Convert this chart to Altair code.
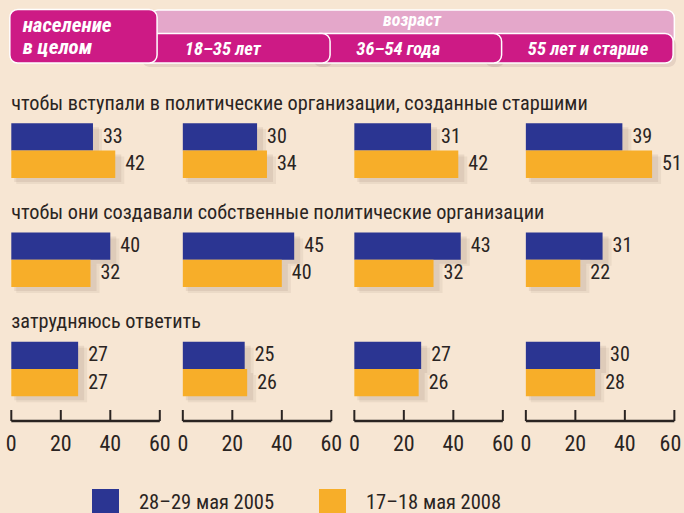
import altair as alt
import pandas as pd

# ---------------- data ----------------
questions = [
    "чтобы вступали в политические организации, созданные старшими",
    "чтобы они создавали собственные политические организации",
    "затрудняюсь ответить",
]
groups = ["население в целом", "18–35 лет", "36–54 года", "55 лет и старше"]
header_title = "возраст"
series = ["28–29 мая 2005", "17–18 мая 2008"]
values_2005 = [
    [33, 30, 31, 39],
    [40, 45, 43, 31],
    [27, 25, 27, 30],
]
values_2008 = [
    [42, 34, 42, 51],
    [32, 40, 32, 22],
    [27, 26, 26, 28],
]
tick_values = [0, 20, 40, 60]

# ---------------- layout / style ----------------
W, H = 684, 513
K = 2.475          # px per percentage point
X0 = 11.3          # px position of 0 in the first panel
PITCH = 69.3       # panel pitch in value units
AXMAX = 60
FONT = "Roboto Condensed"
BLUE = "#2B3592"
ORANGE = "#F7AE29"
MAGENTA = "#CD1A85"
PINK = "#E4A7CA"
BG = "#F7E6D3"
INK = "#2A2422"

xscale = alt.Scale(domain=[-X0 / K, (W - X0) / K], nice=False, zero=False)
slots = []
for r in range(len(questions)):
    slots += [f"r{r}t", f"r{r}s0", f"r{r}s1", f"r{r}g"]
yscale = alt.Scale(domain=slots, range=[96.0, 423.6], paddingInner=0, paddingOuter=0)

# ---------------- tables ----------------
recs = []
for r, q in enumerate(questions):
    for g, grp in enumerate(groups):
        for s, (ser, vals) in enumerate(zip(series, [values_2005, values_2008])):
            v = vals[r][g]
            recs.append(dict(question=q, group=grp, series=ser, value=v,
                             slot=f"r{r}s{s}", x0=g * PITCH, x1=g * PITCH + v))
bars = pd.DataFrame(recs)

titles = pd.DataFrame([dict(question=q, slot=f"r{r}t", x=0) for r, q in enumerate(questions)])

ticks = pd.DataFrame([dict(x=g * PITCH + t, label=str(t), last=(g == len(groups) - 1 and t == tick_values[-1]))
                      for g in range(len(groups)) for t in tick_values])
panels = pd.DataFrame([dict(group=grp, x0=g * PITCH, x1=g * PITCH + AXMAX) for g, grp in enumerate(groups)])

strip = pd.DataFrame([dict(label=header_title, x0=56, x1=(len(groups) - 1) * PITCH + AXMAX,
                           xm=(56 + (len(groups) - 1) * PITCH + AXMAX) / 2)])
tabs = pd.DataFrame([dict(label=groups[g], x0=(g - 1) * PITCH + 52, x1=g * PITCH + 59.5, xt=g * PITCH + 0.8)
                     for g in range(len(groups) - 1, 0, -1)])
tab0 = pd.DataFrame([dict(label=groups[0].replace(" ", "\n", 1), x0=-0.6, x1=58.9, xt=4.6)])

X = lambda f: alt.X(f, scale=xscale, axis=None)
Y = lambda f: alt.Y(f, scale=yscale, axis=None)

# ---------------- header ----------------
strip_rect = alt.Chart(strip).mark_rect(color=PINK, cornerRadius=8, stroke="white", strokeWidth=1.5).encode(
    x=X("x0:Q"), x2="x1:Q", y=alt.value(10), y2=alt.value(45))
strip_text = alt.Chart(strip).mark_text(font=FONT, fontSize=18, fontWeight="bold", fontStyle="italic",
                                        color="white", align="center", baseline="alphabetic").encode(
    x=X("xm:Q"), y=alt.value(26), text="label:N")
tab_shadow = alt.Chart(tabs).mark_rect(color="#6a4050", opacity=0.12, cornerRadius=8,
                                       yOffset=4, y2Offset=4, xOffset=2, x2Offset=3).encode(
    x=X("x0:Q"), x2="x1:Q", y=alt.value(33.5), y2=alt.value(63))
tab_rect = alt.Chart(tabs).mark_rect(color=MAGENTA, cornerRadius=8, stroke="white", strokeWidth=1.5).encode(
    x=X("x0:Q"), x2="x1:Q", y=alt.value(33.5), y2=alt.value(63))
tab_text = alt.Chart(tabs).mark_text(font=FONT, fontSize=18.5, fontWeight="bold", fontStyle="italic",
                                     color="white", align="left", baseline="alphabetic").encode(
    x=X("xt:Q"), y=alt.value(55), text="label:N")
tab0_rect = alt.Chart(tab0).mark_rect(color=MAGENTA, cornerRadius=8, stroke="white", strokeWidth=1.5).encode(
    x=X("x0:Q"), x2="x1:Q", y=alt.value(9.5), y2=alt.value(63))
tab0_text = alt.Chart(tab0).mark_text(font=FONT, fontSize=21, fontWeight="bold", fontStyle="italic",
                                      color="white", align="left", baseline="alphabetic",
                                      lineBreak="\n", lineHeight=22.5).encode(
    x=X("xt:Q"), y=alt.value(31.5), text="label:N")

# ---------------- bars ----------------
base = alt.Chart(bars)
shadow1 = base.mark_rect(color="#6a5040", opacity=0.10, xOffset=3, x2Offset=6, yOffset=4, y2Offset=7).encode(
    x=X("x0:Q"), x2="x1:Q", y=Y("slot:N"))
shadow2 = base.mark_rect(color="#6a5040", opacity=0.08, xOffset=5, x2Offset=9, yOffset=6, y2Offset=10).encode(
    x=X("x0:Q"), x2="x1:Q", y=Y("slot:N"))
bar = base.mark_rect().encode(
    x=X("x0:Q"), x2="x1:Q", y=Y("slot:N"),
    color=alt.Color("series:N", scale=alt.Scale(domain=series, range=[BLUE, ORANGE]),
                    legend=alt.Legend(title=None, orient="none", legendX=92, legendY=489,
                                      direction="horizontal", symbolType="square", symbolSize=729,
                                      symbolStrokeWidth=0, symbolOpacity=1,
                                      labelFont=FONT, labelFontSize=20.5, labelColor=INK,
                                      labelOffset=20, columnPadding=44, padding=0)))
val_text = base.mark_text(font=FONT, fontSize=20, color=INK, align="left", baseline="middle", dx=10).encode(
    x=X("x1:Q"), y=Y("slot:N"), text="value:Q")
title_text = alt.Chart(titles).mark_text(font=FONT, fontSize=20.3, color=INK, align="left",
                                         baseline="alphabetic").encode(
    x=X("x:Q"), y=Y("slot:N"), text="question:N")

# ---------------- axes ----------------
tick_rule = alt.Chart(ticks).mark_rule(color=INK, strokeWidth=2).encode(
    x=X("x:Q"), y=alt.value(410), y2=alt.value(421))
base_rule = alt.Chart(panels).mark_rule(color=INK, strokeWidth=2.5).encode(
    x=X("x0:Q"), x2="x1:Q", y=alt.value(421))
tick_text = alt.Chart(ticks).transform_filter("!datum.last").mark_text(
    font=FONT, fontSize=22, color=INK, align="center", baseline="middle").encode(
    x=X("x:Q"), y=alt.value(444), text="label:N")
tick_text_last = alt.Chart(ticks).transform_filter("datum.last").mark_text(
    font=FONT, fontSize=22, color=INK, align="right", baseline="middle", dx=7).encode(
    x=X("x:Q"), y=alt.value(444), text="label:N")

chart = alt.layer(
    strip_rect, tab_shadow, tab_rect, tab0_rect, strip_text, tab_text, tab0_text,
    shadow2, shadow1, bar, val_text, title_text,
    tick_rule, base_rule, tick_text, tick_text_last,
).properties(
    width=W, height=H, autosize=alt.AutoSizeParams(type="none"), padding=0,
).configure(background=BG).configure_view(stroke=None)

chart.save("out.html", embed_options={"renderer": "svg", "actions": False})
